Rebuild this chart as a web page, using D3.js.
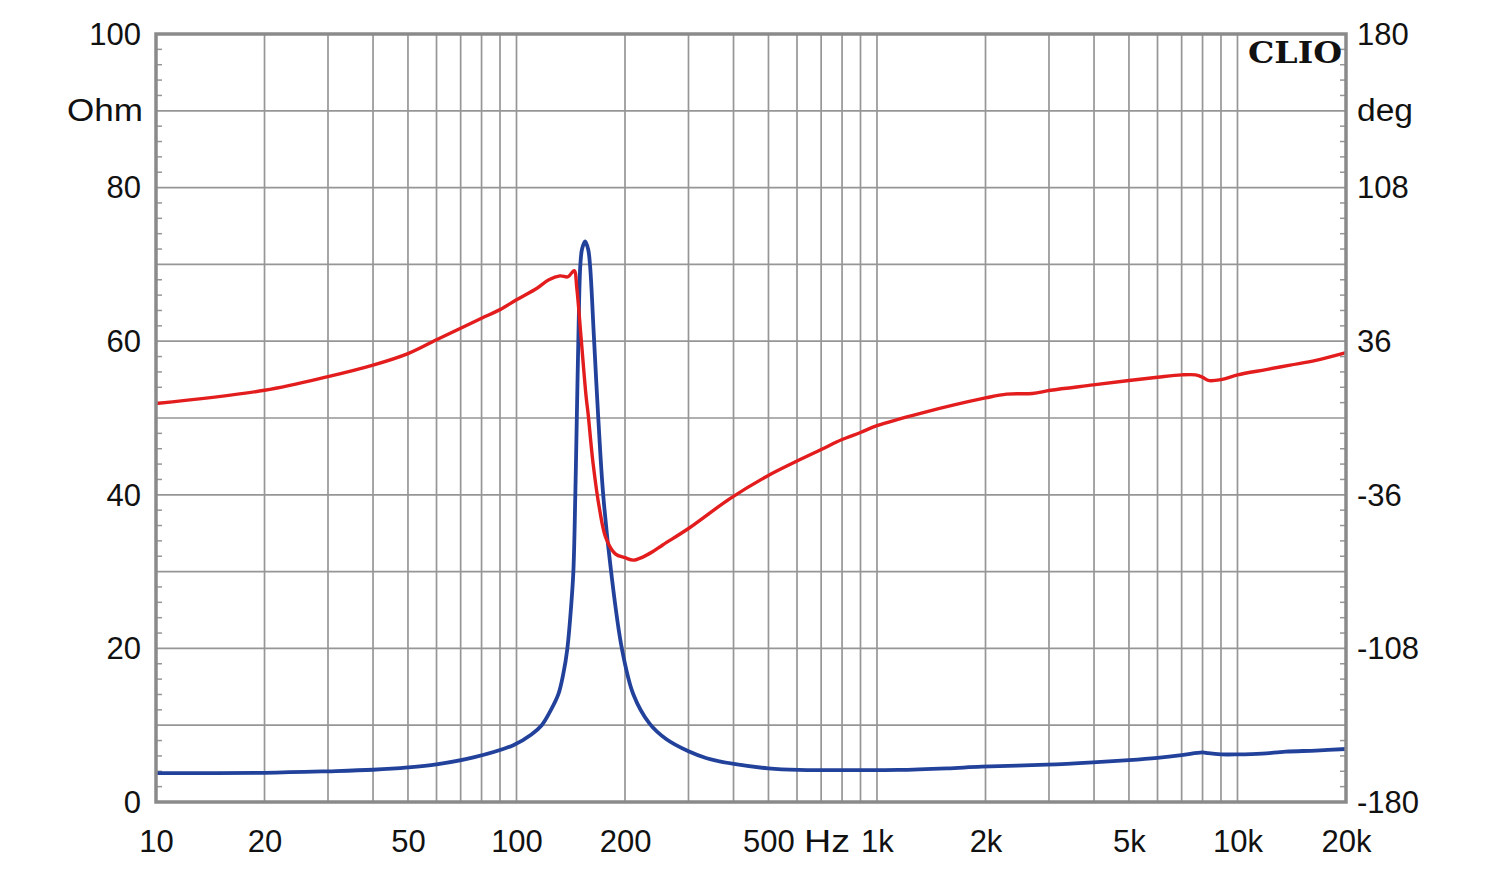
<!DOCTYPE html>
<html>
<head>
<meta charset="utf-8">
<script src="https://cdn.jsdelivr.net/npm/d3@7"></script>
<style>
  html, body { margin: 0; padding: 0; background: #fff; }
  svg { display: block; }
</style>
</head>
<body>
<svg id="chart" width="1500" height="870"></svg>
<script>
// ---------- data ----------
const impFreq = [10, 20, 30, 40, 50, 60, 76, 98, 110, 117.5, 124, 130.6, 135, 138.4, 141.5, 143.8, 145.6, 147, 148.5, 150.3, 152, 155, 158, 160, 164, 168.6, 174, 183, 196, 211, 234, 260, 300, 337, 401, 499, 606, 800, 1144, 1565, 1950, 2960, 3970, 5000, 6000, 7000, 8000, 8300, 9000, 10000, 11700, 13600, 16500, 20000];
const impOhm  = [3.75, 3.8, 4.0, 4.2, 4.5, 4.9, 5.8, 7.4, 8.8, 10, 11.8, 14, 16.8, 20, 25, 30, 40, 50, 60.5, 69.8, 72, 73.0, 72, 69.8, 60.5, 50, 40, 30, 20, 14, 10.2, 8.2, 6.6, 5.7, 4.95, 4.38, 4.17, 4.15, 4.17, 4.38, 4.6, 4.86, 5.16, 5.45, 5.75, 6.1, 6.47, 6.35, 6.2, 6.2, 6.3, 6.55, 6.7, 6.9];

const phaseFreq = [10, 20, 30, 40, 50, 60, 70, 80, 90, 100, 114, 123, 132, 139, 144.5, 147, 151, 156, 158, 163, 170, 177, 188, 200, 211, 224, 239, 255, 300, 391, 494, 600, 700, 800, 900, 1000, 1320, 2000, 2290, 2700, 3030, 3980, 5000, 6000, 7000, 7650, 8000, 8300, 9000, 10000, 12000, 14000, 16500, 20000];
const phaseDeg  = [6.8, 13.0, 19.4, 24.8, 30.2, 36.7, 42.1, 46.8, 50.8, 55.4, 60.8, 64.8, 66.6, 66.2, 69.1, 60.8, 38, 10, 2, -20.9, -42.8, -56.2, -63.7, -65.5, -66.6, -65.2, -62.6, -59.4, -51.8, -37.8, -27.4, -20.2, -14.8, -10.1, -6.8, -3.6, 2.2, 9.4, 11.2, 11.5, 13.0, 15.5, 17.6, 19.1, 20.2, 20.2, 19.1, 17.6, 18, 20.2, 22.7, 24.8, 27, 30.6];

const xTickValues = [10, 20, 50, 100, 200, 500, 1000, 2000, 5000, 10000, 20000];
const xTickLabels = ["10", "20", "50", "100", "200", "500", "1k", "2k", "5k", "10k", "20k"];
const leftTickValues = [0, 20, 40, 60, 80, 100];
const rightTickValues = [-180, -108, -36, 36, 108, 180];
const leftUnit = "Ohm";
const rightUnit = "deg";
const xUnit = "Hz";
const brand = "CLIO";

// ---------- layout ----------
const L = 156, R = 1346, T = 34, B = 802;
const SANS = "'Liberation Sans', Arial, sans-serif";
const svg = d3.select("#chart");
svg.append("rect").attr("width", 1500).attr("height", 870).attr("fill", "#fff");

const x = d3.scaleLog().domain([10, 20000]).range([L, R]);
const yL = d3.scaleLinear().domain([0, 100]).range([B, T]);
const yR = d3.scaleLinear().domain([-180, 180]).range([B, T]);

const gridColor = "#969696";

// vertical grid lines (log)
const vGrid = [];
[10, 100, 1000].forEach(dec => { for (let k = 1; k <= 9; k++) vGrid.push(dec * k); });
vGrid.push(10000);
svg.append("g").selectAll("line").data(vGrid.filter(v => v > 10 && v < 20000)).join("line")
  .attr("x1", d => x(d)).attr("x2", d => x(d))
  .attr("y1", T).attr("y2", B)
  .attr("stroke", gridColor).attr("stroke-width", 1.7);

// horizontal grid lines
svg.append("g").selectAll("line").data(d3.range(10, 100, 10)).join("line")
  .attr("x1", L).attr("x2", R)
  .attr("y1", d => yL(d)).attr("y2", d => yL(d))
  .attr("stroke", gridColor).attr("stroke-width", 1.7);

// minor ticks on left/right frame
const minor = d3.range(2, 100, 2).filter(v => v % 10 !== 0);
svg.append("g").selectAll("line").data(minor).join("line")
  .attr("x1", L).attr("x2", L + 6)
  .attr("y1", d => yL(d)).attr("y2", d => yL(d))
  .attr("stroke", gridColor).attr("stroke-width", 1.5);
svg.append("g").selectAll("line").data(minor).join("line")
  .attr("x1", R - 6).attr("x2", R)
  .attr("y1", d => yL(d)).attr("y2", d => yL(d))
  .attr("stroke", gridColor).attr("stroke-width", 1.5);

// ---------- curves ----------
const impLine = d3.line()
  .x((d, i) => x(impFreq[i]))
  .y(d => yL(d))
  .curve(d3.curveCatmullRom.alpha(0.5));
svg.append("path").datum(impOhm)
  .attr("d", impLine)
  .attr("fill", "none").attr("stroke", "#22419b").attr("stroke-width", 3.8)
  .attr("stroke-linejoin", "round");

const phLine = d3.line()
  .x((d, i) => x(phaseFreq[i]))
  .y(d => yR(d))
  .curve(d3.curveCatmullRom.alpha(0.5));
svg.append("path").datum(phaseDeg)
  .attr("d", phLine)
  .attr("fill", "none").attr("stroke", "#e31d1d").attr("stroke-width", 3.4)
  .attr("stroke-linejoin", "round");

// frame
svg.append("rect").attr("x", L).attr("y", T).attr("width", R - L).attr("height", B - T)
  .attr("fill", "none").attr("stroke", "#8a8a8a").attr("stroke-width", 3.5);

// ---------- axes (labels) ----------
const fs = 31;
function styleTicks(g) {
  g.select(".domain").remove();
  g.selectAll("text").style("font-family", SANS).style("font-size", fs + "px").attr("fill", "#111");
}
const axL = d3.axisLeft(yL).tickValues(leftTickValues).tickSize(0).tickPadding(0).tickFormat(d3.format("d"));
const gL = svg.append("g").attr("transform", `translate(${L - 15},0)`).call(axL);
styleTicks(gL);
gL.selectAll("text").attr("dy", "0.33em");
svg.append("text").attr("x", L - 13).attr("y", yL(90)).attr("dy", "0.33em")
  .attr("text-anchor", "end").style("font-family", SANS).style("font-size", fs + "px")
  .attr("textLength", 76).attr("lengthAdjust", "spacingAndGlyphs").attr("fill", "#111").text(leftUnit);

const axR = d3.axisRight(yR).tickValues(rightTickValues).tickSize(0).tickPadding(0).tickFormat(d => String(d));
const gR = svg.append("g").attr("transform", `translate(${R + 11},0)`).call(axR);
styleTicks(gR);
gR.selectAll("text").attr("dy", "0.33em");
svg.append("text").attr("x", R + 11).attr("y", yL(90)).attr("dy", "0.33em")
  .attr("text-anchor", "start").style("font-family", SANS).style("font-size", fs + "px")
  .attr("textLength", 56).attr("lengthAdjust", "spacingAndGlyphs").attr("fill", "#111").text(rightUnit);

const axB = d3.axisBottom(x).tickValues(xTickValues).tickSize(0).tickPadding(0)
  .tickFormat((d, i) => xTickLabels[i]);
const gB = svg.append("g").attr("transform", `translate(0,${B + 50})`).call(axB);
styleTicks(gB);
gB.selectAll("text").attr("dy", 0);
svg.append("text").attr("x", 827).attr("y", B + 50).attr("text-anchor", "middle")
  .style("font-family", SANS).style("font-size", fs + "px")
  .attr("textLength", 46).attr("lengthAdjust", "spacingAndGlyphs").attr("fill", "#111").text(xUnit);

// brand
svg.append("text").attr("x", 1342).attr("y", 63).attr("text-anchor", "end")
  .style("font-family", "'DejaVu Serif', 'Liberation Serif', serif").style("font-weight", "bold")
  .style("font-size", "30px").attr("textLength", 94).attr("lengthAdjust", "spacingAndGlyphs")
  .attr("fill", "#111").text(brand);
</script>
</body>
</html>
